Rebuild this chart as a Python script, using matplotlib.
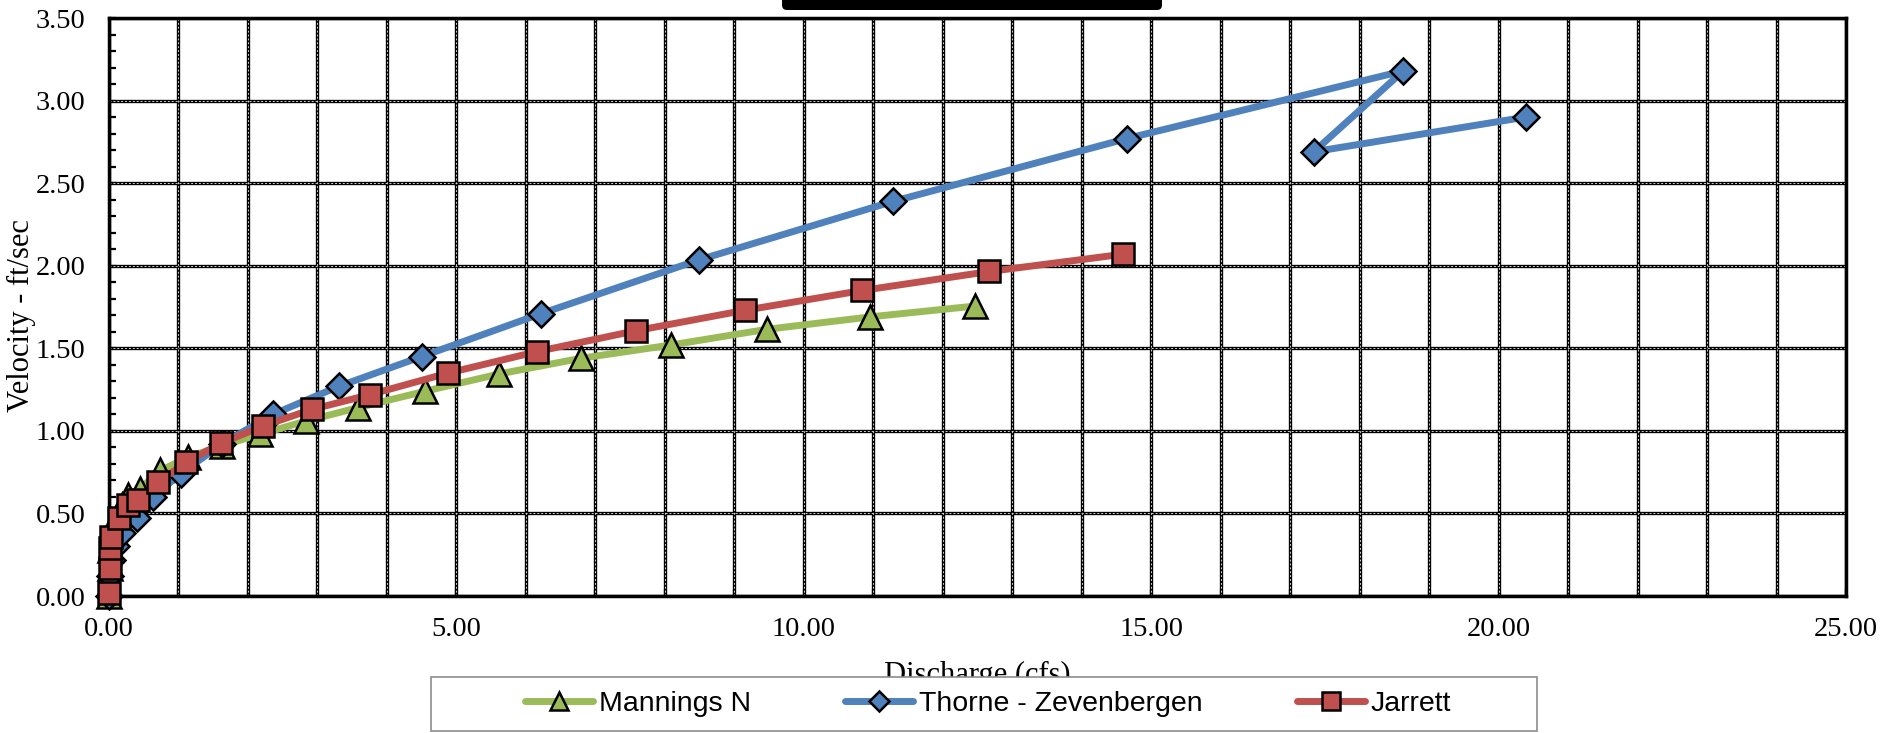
import numpy as np
import matplotlib
matplotlib.use("Agg")
import matplotlib.pyplot as plt
from matplotlib.ticker import MultipleLocator, FormatStrFormatter
from matplotlib.patches import Rectangle, FancyBboxPatch
from matplotlib.transforms import IdentityTransform

# Discharge (cfs) and velocity (ft/sec) for each method
mannings_q = [0.00, 0.01, 0.02, 0.05, 0.10, 0.18, 0.28, 0.45, 0.74, 1.14, 1.62,
              2.18, 2.84, 3.58, 4.55, 5.62, 6.80, 8.09, 9.47, 10.95, 12.47]
mannings_v = [0.00, 0.17, 0.28, 0.37, 0.47, 0.55, 0.61, 0.65, 0.76, 0.84, 0.91,
              0.98, 1.06, 1.14, 1.24, 1.345, 1.44, 1.52, 1.615, 1.69, 1.756]

thorne_q = [0.00, 0.02, 0.05, 0.10, 0.19, 0.40, 0.63, 1.03, 1.62, 2.36, 3.31,
            4.50, 6.22, 8.49, 11.29, 14.65, 18.63, 17.34, 20.39]
thorne_v = [0.00, 0.12, 0.22, 0.30, 0.38, 0.47, 0.60, 0.74, 0.92, 1.10, 1.27,
            1.45, 1.71, 2.035, 2.39, 2.77, 3.18, 2.69, 2.90]

jarrett_q = [0.00, 0.01, 0.01, 0.03, 0.14, 0.27, 0.42, 0.71, 1.11, 1.61, 2.22,
             2.92, 3.76, 4.88, 6.16, 7.59, 9.15, 10.84, 12.67, 14.60]
jarrett_v = [0.02, 0.17, 0.29, 0.36, 0.47, 0.55, 0.58, 0.69, 0.81, 0.925, 1.03,
             1.13, 1.22, 1.35, 1.48, 1.607, 1.73, 1.85, 1.965, 2.07]

series_names = ["Mannings N", "Thorne - Zevenbergen", "Jarrett"]
x_label = "Discharge (cfs)"
y_label = "Velocity - ft/sec"

W, H = 1902, 733
fig = plt.figure(figsize=(W / 100, H / 100), dpi=100)
ax = fig.add_axes([109 / W, 1 - 596 / H, (1846 - 109) / W, (596 - 18) / H])

styles = [
    dict(color="#9BBB59", marker="^", ms=17.5),
    dict(color="#4F81BD", marker="D", ms=13.5),
    dict(color="#C0504D", marker="s", ms=16.5),
]
handles = []
for (q, v), name, st in zip([(mannings_q, mannings_v), (thorne_q, thorne_v),
                             (jarrett_q, jarrett_v)], series_names, styles):
    ln, = ax.plot(q, v, color=st["color"], lw=5, marker=st["marker"],
                  ms=st["ms"], mfc=st["color"], mec="black", mew=1.8,
                  solid_capstyle="round", clip_on=False, zorder=3, label=name)
    handles.append(ln)

ax.set_xlim(0, 25)
ax.set_ylim(0, 3.5)
ax.xaxis.set_major_locator(MultipleLocator(5))
ax.xaxis.set_minor_locator(MultipleLocator(1))
ax.yaxis.set_major_locator(MultipleLocator(0.5))
ax.yaxis.set_minor_locator(MultipleLocator(0.1))
ax.xaxis.set_major_formatter(FormatStrFormatter("%.2f"))
ax.yaxis.set_major_formatter(FormatStrFormatter("%.2f"))

for s in ax.spines.values():
    s.set_linewidth(2.5)
    s.set_color("black")

ax.tick_params(which="both", direction="in", color="black", width=1.6, length=5)
ax.tick_params(axis="y", which="major", pad=17)
ax.tick_params(axis="x", which="major", pad=15)
for lab in ax.get_xticklabels() + ax.get_yticklabels():
    lab.set_fontfamily("Liberation Serif")
    lab.set_fontsize(20.5)

# Gridlines: black with a light dashed core
ax.set_axisbelow(True)
ax.grid(axis="x", which="both", color="black", lw=2.4, zorder=1)
ax.grid(axis="y", which="major", color="black", lw=2.4, zorder=1)
xg = sorted(set(np.round(np.concatenate([ax.xaxis.get_majorticklocs(),
                                         ax.xaxis.get_minorticklocs()]), 6)))
yg = ax.yaxis.get_majorticklocs()
ax.vlines(xg, 0, 3.5, colors="#cfcfcf", lw=0.7, linestyles=(0, (2, 2)), zorder=1.5)
ax.hlines(yg, 0, 25, colors="#cfcfcf", lw=0.7, linestyles=(0, (2, 2)), zorder=1.5)

# Axis titles
fig.text(21 / W, 1 - 316 / H, y_label, rotation=90, ha="center", va="center",
         fontfamily="Liberation Serif", fontsize=22)
fig.text(977 / W, 1 - 661 / H, x_label, ha="center", va="top",
         fontfamily="Liberation Serif", fontsize=22)

# Legend box
frame = Rectangle((431 / W, 1 - 731 / H), (1537 - 431) / W, (731 - 677) / H,
                  transform=fig.transFigure, facecolor="white",
                  edgecolor="#8c8c8c", lw=1.2, zorder=4)
fig.patches.append(frame)
leg = fig.legend(handles=handles, loc="center", bbox_to_anchor=(988 / W, 1 - 704 / H),
                 ncol=3, frameon=False, handlelength=2.4, handletextpad=0.2,
                 columnspacing=3.3, markerscale=0.75,
                 prop=dict(family="Liberation Sans", size=20.5))
leg.set_zorder(6)

# Dark bar across the top edge
bar = FancyBboxPatch((782, H - 10), 380, 20, boxstyle="round,pad=0,rounding_size=5",
                     transform=IdentityTransform(), facecolor="black",
                     edgecolor="none", zorder=7)
fig.patches.append(bar)

fig.savefig("out.png", dpi=100)
